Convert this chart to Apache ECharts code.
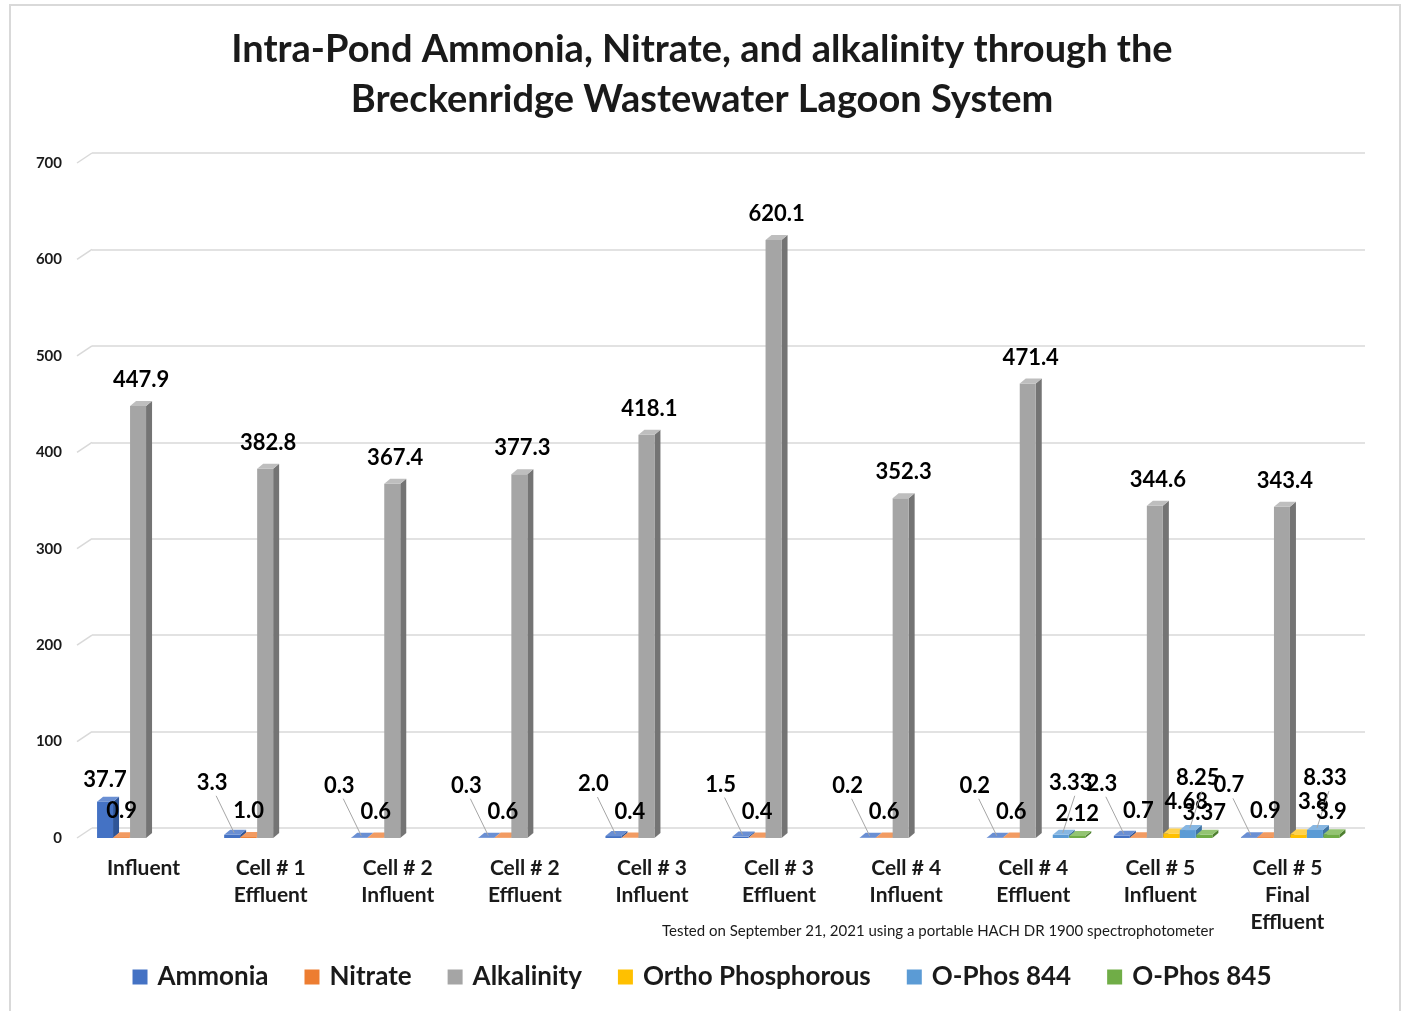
<!DOCTYPE html>
<html>
<head>
<meta charset="utf-8">
<title>Breckenridge Lagoon</title>
<script src="https://cdn.jsdelivr.net/npm/echarts@6/dist/echarts.min.js"></script>
<style>
  html, body { margin: 0; padding: 0; background: #fff; }
  #main { width: 1404px; height: 1011px; }
</style>
</head>
<body>
<div id="main"></div>
<script>
var categories = ['Influent', 'Cell # 1\nEffluent', 'Cell # 2\nInfluent', 'Cell # 2\nEffluent',
  'Cell # 3\nInfluent', 'Cell # 3\nEffluent', 'Cell # 4\nInfluent', 'Cell # 4\nEffluent',
  'Cell # 5\nInfluent', 'Cell # 5\nFinal\nEffluent'];
var ammonia = [37.7, 3.3, 0.3, 0.3, 2.0, 1.5, 0.2, 0.2, 2.3, 0.7];
var nitrate = [0.9, 1.0, 0.6, 0.6, 0.4, 0.4, 0.6, 0.6, 0.7, 0.9];
var alkalinity = [447.9, 382.8, 367.4, 377.3, 418.1, 620.1, 352.3, 471.4, 344.6, 343.4];
var orthoPhos = [null, null, null, null, null, null, null, null, 4.68, 3.8];
var oPhos844 = [null, null, null, null, null, null, null, 3.33, 8.25, 8.33];
var oPhos845 = [null, null, null, null, null, null, null, 2.12, 3.37, 3.9];
var yTicks = [0, 100, 200, 300, 400, 500, 600, 700];

var font = 'Lato, "Open Sans", sans-serif';
var BAR_W = 16, BAR_STEP = 16.5, GROUP_SHIFT = 3, DEPTH_X = 6, DEPTH_Y = 5;

// label offset from bar top (dx, dy); leader line when value is small
var seriesDefs = [
  { name: 'Ammonia', data: ammonia, color: '#4472C4', side: '#2F5597', top: '#6A8FD3', lbl: [-20, -52], bigLbl: [0, -22], leader: true, dec: 1 },
  { name: 'Nitrate', data: nitrate, color: '#ED7D31', side: '#B85E22', top: '#F29B62', lbl: [0, -26], leader: false, dec: 1 },
  { name: 'Alkalinity', data: alkalinity, color: '#A5A5A5', side: '#747474', top: '#BEBEBE', lbl: [3, -26], leader: false, dec: 1 },
  { name: 'Ortho Phosphorous', data: orthoPhos, color: '#FFC000', side: '#C09000', top: '#FFD24D', lbl: [15, -32], leader: false },
  { name: 'O-Phos 844', data: oPhos844, color: '#5B9BD5', side: '#3E73A3', top: '#86B6E2', lbl: [10, -52], leader: true },
  { name: 'O-Phos 845', data: oPhos845, color: '#70AD47', side: '#4E7F30', top: '#93C472', lbl: [0, -22], leader: false }
];

function barBox(sIdx, api) {
  var v = api.value(1);
  var base = api.coord([api.value(0), 0]);
  var tp = api.coord([api.value(0), v]);
  var x0 = base[0] + GROUP_SHIFT + (sIdx - 3) * BAR_STEP;
  return { v: v, x0: x0, x1: x0 + BAR_W, yb: base[1], yt: tp[1] };
}

function makeRender(sIdx, def) {
  return function (params, api) {
    if (isNaN(api.value(1))) return;
    var b = barBox(sIdx, api);
    return { type: 'group', children: [
      { type: 'polygon', shape: { points: [[b.x1, b.yb], [b.x1 + DEPTH_X, b.yb - DEPTH_Y], [b.x1 + DEPTH_X, b.yt - DEPTH_Y], [b.x1, b.yt]] },
        style: { fill: def.side } },
      { type: 'rect', shape: { x: b.x0, y: b.yt, width: BAR_W, height: Math.max(b.yb - b.yt, 0) },
        style: { fill: def.color } },
      { type: 'polygon', shape: { points: [[b.x0, b.yt], [b.x1, b.yt], [b.x1 + DEPTH_X, b.yt - DEPTH_Y], [b.x0 + DEPTH_X, b.yt - DEPTH_Y]] },
        style: { fill: def.top } }
    ] };
  };
}

function makeLabel(sIdx, def) {
  return function (params, api) {
    if (isNaN(api.value(1))) return;
    var b = barBox(sIdx, api);
    var big = def.bigLbl && b.v > 10;
    var off = big ? def.bigLbl : def.lbl;
    var cx = b.x0 + BAR_W / 2;
    var lx = cx + off[0], ly = b.yt + off[1];
    var txt = def.dec ? b.v.toFixed(def.dec) : String(b.v);
    var children = [];
    if (def.leader && !big) {
      children.push({ type: 'line', shape: { x1: lx + 4, y1: ly + 13, x2: cx + 2, y2: b.yt - 2 },
        style: { stroke: '#A6A6A6', lineWidth: 1 } });
    }
    children.push({ type: 'text', x: lx, y: ly,
      style: { text: txt, fill: '#000', font: 'bold 22px ' + font, align: 'center', verticalAlign: 'middle' } });
    return { type: 'group', children: children };
  };
}

function renderWallTick(params, api) {
  var cs = params.coordSys;
  var y = api.coord([0, api.value(1)])[1];
  return { type: 'line', shape: { x1: cs.x - 3, y1: y, x2: cs.x + 12, y2: y - 10 },
    style: { stroke: '#D9D9D9', lineWidth: 1.5 } };
}

function toPairs(arr) {
  return arr.map(function (v, k) { return [k, v == null ? NaN : v]; });
}

var series = [];
seriesDefs.forEach(function (d, i) {
  series.push({
    name: d.name, type: 'custom', itemStyle: { color: d.color },
    renderItem: makeRender(i, d), data: toPairs(d.data), z: 3
  });
});
seriesDefs.forEach(function (d, i) {
  series.push({
    type: 'custom', silent: true,
    renderItem: makeLabel(i, d), data: toPairs(d.data), z: 6
  });
});
series.push({
  type: 'custom', silent: true, renderItem: renderWallTick,
  data: yTicks.map(function (t) { return [0, t]; }), z: 1
});

var myChart = echarts.init(document.getElementById('main'));
var option = {
  animation: false,
  backgroundColor: '#fff',
  title: {
    text: 'Intra-Pond Ammonia, Nitrate, and alkalinity through the\nBreckenridge Wastewater Lagoon System',
    left: 'center',
    top: 20,
    textStyle: { fontFamily: font, fontWeight: 'bold', fontSize: 38, lineHeight: 50, color: '#1A1A1A' }
  },
  legend: {
    data: seriesDefs.map(function (d) { return d.name; }),
    bottom: 16,
    left: 'center',
    icon: 'rect',
    itemWidth: 15,
    itemHeight: 15,
    itemGap: 36,
    textStyle: { fontFamily: font, fontWeight: 'bold', fontSize: 26, color: '#1A1A1A', padding: [0, 0, 0, 5] }
  },
  graphic: [
    { type: 'rect', shape: { x: 10, y: 5, width: 1390, height: 1015 }, style: { fill: 'none', stroke: '#D9D9D9', lineWidth: 2 }, silent: true },
    { type: 'text', right: 190, top: 924, style: { text: 'Tested on September 21, 2021 using a portable HACH DR 1900 spectrophotometer', font: '15px ' + font, fill: '#1A1A1A' } }
  ],
  grid: [
    { left: 80, right: 53, top: 163, bottom: 173 },
    { left: 92, right: 39, top: 153, bottom: 183 }
  ],
  xAxis: [
    {
      type: 'category', gridIndex: 0, data: categories,
      axisLine: { show: false }, axisTick: { show: false },
      axisLabel: { margin: 17, fontFamily: font, fontWeight: 'bold', fontSize: 21, lineHeight: 27, color: '#1A1A1A', interval: 0 }
    },
    { type: 'category', gridIndex: 1, data: categories, show: false }
  ],
  yAxis: [
    {
      type: 'value', gridIndex: 0, min: 0, max: 700, interval: 100,
      splitLine: { show: false }, axisLine: { show: false }, axisTick: { show: false },
      axisLabel: { margin: 18, fontFamily: font, fontWeight: 'bold', fontSize: 15, color: '#1A1A1A' }
    },
    {
      type: 'value', gridIndex: 1, min: 0, max: 700, interval: 100,
      axisLabel: { show: false }, axisLine: { show: false }, axisTick: { show: false },
      splitLine: { show: true, lineStyle: { color: '#D9D9D9', width: 1.5 } }
    }
  ],
  series: series
};

myChart.setOption(option);
window.onresize = function () {
  myChart.resize();
};
</script>
</body>
</html>
